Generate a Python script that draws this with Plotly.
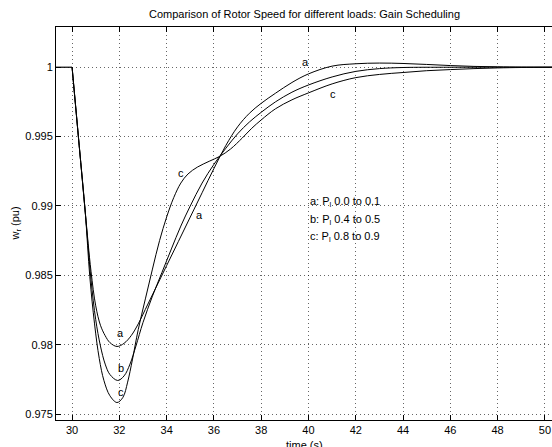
import plotly.graph_objects as go

# ---------------- data ----------------
t_flat = [29.32, 30.0]
w_flat = [1.0, 1.0]

t_a = [30.0, 30.3, 30.56, 30.8, 31.0, 31.2, 31.4, 31.6, 31.9, 32.2, 32.5, 32.8, 33.1,
       33.5, 34.0, 34.5, 35.0, 35.5, 36.0, 36.5, 37.0, 37.5, 38.0, 38.6, 39.3, 40.0,
       41.0, 42.0, 43.0, 44.0, 45.0, 46.0, 47.0, 48.0, 49.0, 50.3]
w_a = [1.0, 0.99438, 0.9895, 0.98530, 0.98280, 0.98140, 0.98065, 0.98015, 0.97987,
       0.98010, 0.98065, 0.98150, 0.98255, 0.98395, 0.98570, 0.98745, 0.98920, 0.99095,
       0.99270, 0.99435, 0.99570, 0.99668, 0.99740, 0.99812, 0.99890, 0.99952, 1.00008,
       1.00025, 1.00030, 1.00027, 1.00020, 1.00012, 1.00006, 1.00003, 1.00001, 1.0]

t_b = [30.0, 30.3, 30.56, 30.8, 31.0, 31.2, 31.4, 31.6, 31.93, 32.2, 32.45, 32.7, 33.0,
       33.4, 33.8, 34.2, 34.6, 35.0, 35.5, 36.0, 36.5, 37.0, 37.5, 38.0, 38.6, 39.3,
       40.0, 41.0, 42.0, 43.0, 44.0, 46.0, 50.3]
w_b = [1.0, 0.99438, 0.9895, 0.98470, 0.98180, 0.97990, 0.97860, 0.97785, 0.97742,
       0.97775, 0.97860, 0.97990, 0.98160, 0.98350, 0.98520, 0.98690, 0.98855, 0.99000,
       0.99165, 0.99300, 0.99415, 0.99520, 0.99605, 0.99675, 0.99750, 0.99820, 0.99872,
       0.99930, 0.99970, 0.99990, 0.99998, 1.0, 1.0]

t_c = [30.0, 30.3, 30.56, 30.75, 30.95, 31.15, 31.35, 31.6, 31.9, 32.15, 32.35, 32.55,
       32.8, 33.1, 33.4, 33.7, 34.0, 34.3, 34.6, 34.9, 35.3, 35.8, 36.25, 36.7, 37.2,
       37.6, 38.0, 38.6, 39.3, 40.0, 41.0, 42.0, 43.0, 44.0, 45.0, 46.0, 47.0, 48.0,
       49.0, 50.3]
w_c = [1.0, 0.99438, 0.9895, 0.98490, 0.98150, 0.97900, 0.97740, 0.97632, 0.97583,
       0.97620, 0.97730, 0.97890, 0.98110, 0.98330, 0.98545, 0.98750, 0.98920, 0.99060,
       0.99165, 0.99230, 0.99280, 0.99322, 0.99358, 0.99410, 0.99490, 0.99560, 0.99620,
       0.99700, 0.99765, 0.99815, 0.99880, 0.99925, 0.99948, 0.99962, 0.99975, 0.99983,
       0.99990, 0.99995, 0.99998, 1.0]

# curve labels: (text, x, y)
curve_labels = [("a", 32.06, 0.98084), ("b", 32.09, 0.97831), ("c", 32.06, 0.97662),
                ("c", 34.61, 0.99238), ("a", 35.37, 0.98937),
                ("a", 39.89, 1.00039), ("c", 41.02, 0.99808)]

legend_lines = ["a: P<sub>l</sub> 0.0 to 0.1",
                "b: P<sub>l</sub> 0.4 to 0.5",
                "c: P<sub>l</sub> 0.8 to 0.9"]
legend_x = 39.96
legend_y = [0.99031, 0.98901, 0.98775]

x_ticks = [30, 32, 34, 36, 38, 40, 42, 44, 46, 48, 50]
y_ticks = [0.975, 0.98, 0.985, 0.99, 0.995, 1.0]
y_ticktext = ["0.975", "0.98", "0.985", "0.99", "0.995", "1"]

x_range = [29.32, 50.30]
y_range = [0.97457, 1.0029]

title_text = "Comparison of Rotor Speed for different loads: Gain Scheduling"
xlabel = "time (s)"
ylabel = "w<sub>r</sub> (pu)"

# ---------------- figure ----------------
FONT = "Liberation Sans, Arial, Helvetica, sans-serif"
fig = go.Figure()

fig.add_trace(go.Scatter(x=t_flat, y=w_flat, mode="lines",
                         line=dict(color="black", width=1.2), hoverinfo="skip"))
for tt, ww in [(t_a, w_a), (t_b, w_b), (t_c, w_c)]:
    fig.add_trace(go.Scatter(x=tt, y=ww, mode="lines",
                             line=dict(color="black", width=1, shape="spline", smoothing=1.0),
                             hoverinfo="skip"))

for txt, xx, yy in curve_labels:
    fig.add_annotation(x=xx, y=yy, text=txt, showarrow=False,
                       font=dict(family=FONT, size=11, color="black"),
                       xanchor="center", yanchor="middle")

for txt, yy in zip(legend_lines, legend_y):
    fig.add_annotation(x=legend_x, y=yy, text=txt, showarrow=False,
                       font=dict(family=FONT, size=11, color="black"),
                       xanchor="left", yanchor="middle")

# title and axis labels
fig.add_annotation(xref="paper", yref="paper", x=0.502, y=1.0 + 13.0 / 393,
                   text=title_text, showarrow=False,
                   font=dict(family=FONT, size=11, color="black"),
                   xanchor="center", yanchor="middle")
fig.add_annotation(xref="paper", yref="paper", x=0.502, y=-25.0 / 393,
                   text=xlabel, showarrow=False,
                   font=dict(family=FONT, size=11, color="black"),
                   xanchor="center", yanchor="middle")
fig.add_annotation(xref="paper", yref="paper", x=-41.0 / 496, y=0.5,
                   text=ylabel, showarrow=False, textangle=-90,
                   font=dict(family=FONT, size=11, color="black"),
                   xanchor="center", yanchor="middle")

grid_common = dict(showgrid=True, gridcolor="rgba(0,0,0,0.6)", gridwidth=1,
                   griddash="1px,3px", zeroline=False,
                   ticks="inside", ticklen=5, tickcolor="black", tickwidth=1,
                   showline=True, linecolor="black", linewidth=1,
                   tickfont=dict(family=FONT, size=11, color="black"))

fig.update_xaxes(range=x_range, tickvals=x_ticks, mirror="ticks",
                 ticklabeloverflow="allow", **grid_common)
fig.update_yaxes(range=y_range, tickvals=y_ticks, ticktext=y_ticktext, mirror=False,
                 **grid_common)

fig.update_layout(width=552, height=447, showlegend=False,
                  margin=dict(l=56, r=0, t=27, b=27, autoexpand=False),
                  paper_bgcolor="white", plot_bgcolor="white")

fig.write_html("out.html",
               config={"displayModeBar": False},
               post_script="document.body.style.margin='0px';"
                           "document.body.style.overflow='hidden';")
